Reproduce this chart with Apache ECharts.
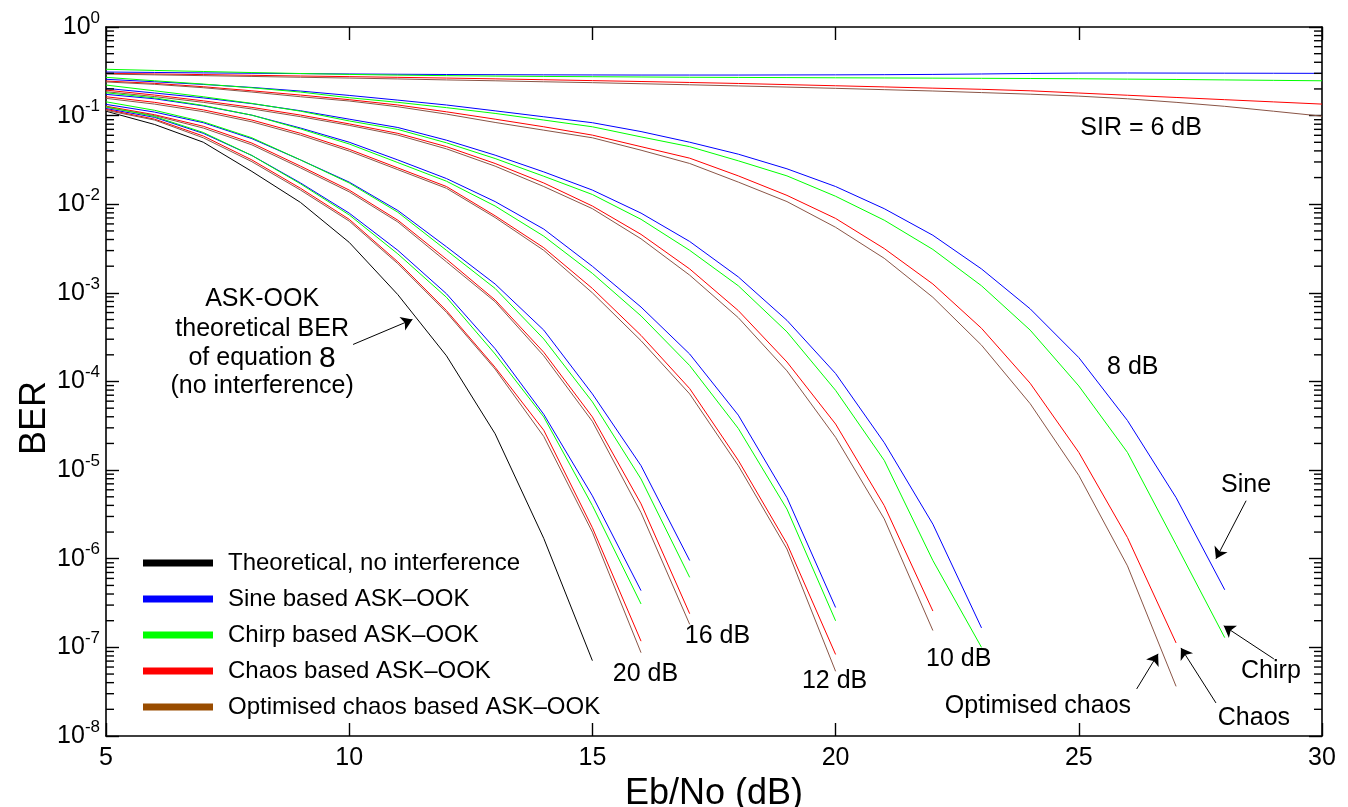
<!DOCTYPE html>
<html><head><meta charset="utf-8">
<script src="https://cdn.jsdelivr.net/npm/echarts@6.0.0/dist/echarts.min.js"></script>
<style>html,body{margin:0;padding:0;background:#fff}#c{width:1348px;height:807px}</style>
</head><body><div id="c"></div>
<script>
// ---- data (log10 of BER) ----
const EBNO = [5,6,7,8,9,10,11,12,13,14,15,16,17,18,19,20,21,22,23,24,25,26,27,28,29,30];
const X_TICKS = [5,10,15,20,25,30];
const Y_DECADES = [0,-1,-2,-3,-4,-5,-6,-7,-8];
const MINOR_MULTS = [2,3,4,5,6,7,8,9];

const THEORY = [-0.95,-1.10,-1.30,-1.63,-1.98,-2.43,-3.02,-3.71,-4.59,-5.77,-7.15];

const SINE_20  = [-0.92,-1.02,-1.20,-1.45,-1.76,-2.10,-2.52,-3.01,-3.63,-4.37,-5.29,-6.36];
const CHIRP_20 = [-0.90,-1.01,-1.19,-1.45,-1.77,-2.12,-2.56,-3.05,-3.69,-4.40,-5.40,-6.51];
const CHAOS_20 = [-0.93,-1.04,-1.23,-1.50,-1.82,-2.17,-2.65,-3.20,-3.84,-4.55,-5.65,-6.93];
const OPT_20   = [-0.94,-1.05,-1.25,-1.52,-1.84,-2.19,-2.67,-3.22,-3.86,-4.62,-5.70,-7.06];

const SINE_16  = [-0.873,-0.96,-1.08,-1.26,-1.50,-1.75,-2.07,-2.48,-2.90,-3.42,-4.14,-4.95,-6.02];
const CHIRP_16 = [-0.844,-0.94,-1.07,-1.25,-1.50,-1.76,-2.09,-2.52,-2.95,-3.52,-4.23,-5.10,-6.21];
const CHAOS_16 = [-0.893,-0.99,-1.12,-1.31,-1.57,-1.84,-2.18,-2.62,-3.08,-3.67,-4.40,-5.38,-6.62];
const OPT_16   = [-0.907,-1.00,-1.14,-1.33,-1.59,-1.86,-2.20,-2.65,-3.10,-3.71,-4.45,-5.48,-6.74];

const SINE_12  = [-0.76,-0.81,-0.89,-0.995,-1.14,-1.30,-1.50,-1.71,-1.97,-2.28,-2.70,-3.16,-3.69,-4.38,-5.31,-6.55];
const CHIRP_12 = [-0.742,-0.80,-0.885,-0.995,-1.15,-1.32,-1.53,-1.74,-2.02,-2.36,-2.78,-3.26,-3.82,-4.53,-5.44,-6.70];
const CHAOS_12 = [-0.787,-0.85,-0.935,-1.05,-1.20,-1.38,-1.59,-1.80,-2.13,-2.49,-2.95,-3.48,-4.08,-4.89,-5.83,-7.08];
const OPT_12   = [-0.805,-0.87,-0.955,-1.07,-1.22,-1.40,-1.61,-1.82,-2.15,-2.52,-3.00,-3.54,-4.14,-4.95,-5.89,-7.27];

const SINE_10  = [-0.692,-0.745,-0.80,-0.865,-0.945,-1.04,-1.134,-1.277,-1.446,-1.635,-1.84,-2.10,-2.42,-2.82,-3.31,-3.91,-4.69,-5.61,-6.78];
const CHIRP_10 = [-0.655,-0.72,-0.787,-0.862,-0.95,-1.06,-1.156,-1.307,-1.484,-1.684,-1.89,-2.17,-2.52,-2.92,-3.44,-4.10,-4.89,-6.02,-7.00];
const CHAOS_10 = [-0.712,-0.768,-0.833,-0.907,-0.994,-1.093,-1.20,-1.35,-1.54,-1.76,-2.02,-2.34,-2.73,-3.20,-3.78,-4.48,-5.40,-6.59];
const OPT_10   = [-0.73,-0.785,-0.85,-0.925,-1.012,-1.11,-1.22,-1.375,-1.57,-1.80,-2.05,-2.39,-2.80,-3.28,-3.88,-4.63,-5.55,-6.81];

const SINE_8  = [-0.59,-0.618,-0.648,-0.682,-0.723,-0.772,-0.825,-0.88,-0.946,-1.013,-1.08,-1.18,-1.30,-1.435,-1.60,-1.80,-2.05,-2.35,-2.73,-3.18,-3.73,-4.44,-5.31,-6.35];
const CHIRP_8 = [-0.568,-0.607,-0.644,-0.686,-0.734,-0.798,-0.85,-0.91,-0.975,-1.05,-1.126,-1.24,-1.35,-1.51,-1.68,-1.91,-2.18,-2.51,-2.92,-3.42,-4.05,-4.80,-5.84,-6.89];
const CHAOS_8 = [-0.61,-0.636,-0.674,-0.72,-0.768,-0.82,-0.88,-0.957,-1.04,-1.126,-1.22,-1.35,-1.48,-1.68,-1.90,-2.16,-2.50,-2.90,-3.40,-4.02,-4.80,-5.76,-6.95];
const OPT_8   = [-0.62,-0.647,-0.685,-0.734,-0.787,-0.835,-0.90,-0.983,-1.077,-1.164,-1.25,-1.39,-1.54,-1.75,-1.97,-2.26,-2.61,-3.05,-3.59,-4.25,-5.06,-6.08,-7.44];

const SINE_6  = [-0.508,-0.513,-0.518,-0.522,-0.526,-0.53,-0.533,-0.536,-0.538,-0.54,-0.541,-0.542,-0.542,-0.542,-0.541,-0.54,-0.538,-0.535,-0.53,-0.524,-0.52,-0.519,-0.52,-0.521,-0.522,-0.523];
const CHIRP_6 = [-0.477,-0.49,-0.502,-0.514,-0.525,-0.535,-0.543,-0.549,-0.554,-0.558,-0.561,-0.564,-0.567,-0.569,-0.571,-0.573,-0.575,-0.577,-0.579,-0.581,-0.584,-0.588,-0.592,-0.597,-0.602,-0.607];
const CHAOS_6 = [-0.523,-0.53,-0.537,-0.545,-0.553,-0.56,-0.568,-0.576,-0.585,-0.595,-0.605,-0.615,-0.626,-0.637,-0.65,-0.663,-0.676,-0.69,-0.703,-0.72,-0.745,-0.77,-0.795,-0.82,-0.845,-0.87];
const OPT_6   = [-0.531,-0.54,-0.549,-0.558,-0.567,-0.576,-0.586,-0.597,-0.607,-0.618,-0.628,-0.64,-0.652,-0.665,-0.678,-0.692,-0.707,-0.722,-0.74,-0.758,-0.78,-0.81,-0.85,-0.895,-0.95,-1.006];

const NAMES = ['Theoretical, no interference','Sine based ASK\u2013OOK','Chirp based ASK\u2013OOK','Chaos based ASK\u2013OOK','Optimised chaos based ASK\u2013OOK'];
const LEGEND_COLORS = ['#000000','#0000ff','#00ff00','#ff0000','#994c00'];
const LINE_COLORS = ['#000000','#0000ff','#00ff00','#ff0000','#8a5546'];

// annotations: [text, EbNo, log10 BER]
const NOTES = [
  ['SIR = 6 dB', 26.28, -1.141],
  ['8 dB', 26.11, -3.842],
  ['10 dB', 22.53, -7.13],
  ['12 dB', 19.98, -7.38],
  ['16 dB', 17.57, -6.87],
  ['20 dB', 16.09, -7.30],
  ['Sine', 28.44, -5.164],
  ['Chirp', 28.95, -7.266],
  ['Chaos', 28.60, -7.80],
  ['Optimised chaos', 24.16, -7.66],
  ['ASK-OOK', 8.21, -3.075],
  ['theoretical BER', 8.21, -3.412],
  ['of equation {n|8}', 8.21, -3.740],
  ['(no interference)', 8.21, -4.056]
];
// arrows: [fromX, fromLog, toX, toLog]
const ARROWS = [
  [10.08,-3.582, 11.30,-3.300],
  [28.44,-5.345, 27.82,-6.000],
  [29.01,-7.130, 27.98,-6.757],
  [27.82,-7.627, 27.10,-7.006],
  [26.19,-7.469, 26.63,-7.073]
];

// ---- chart ----
const FONT = '"Liberation Sans", Arial, Helvetica, sans-serif';
const P = e => Math.pow(10, e);

function mk(idx, arr) {
  return {
    name: NAMES[idx], type: 'line', symbol: 'none', showSymbol: false, silent: true,
    data: arr.map((e, i) => [EBNO[i], P(e)]),
    lineStyle: { width: 1, color: LINE_COLORS[idx] },
    itemStyle: { color: LINE_COLORS[idx] },
    emphasis: { disabled: true }, z: 3
  };
}
const groups = [
  [SINE_6, CHIRP_6, CHAOS_6, OPT_6],
  [SINE_8, CHIRP_8, CHAOS_8, OPT_8],
  [SINE_10, CHIRP_10, CHAOS_10, OPT_10],
  [SINE_12, CHIRP_12, CHAOS_12, OPT_12],
  [SINE_16, CHIRP_16, CHAOS_16, OPT_16],
  [SINE_20, CHIRP_20, CHAOS_20, OPT_20]
];
const series = [];
const theory = mk(0, THEORY);
theory.markLine = {
  silent: true, symbol: ['none', 'arrow'], symbolSize: 11, animation: false,
  label: { show: false },
  lineStyle: { color: '#000', width: 1, type: 'solid' },
  data: ARROWS.map(a => [{ coord: [a[0], P(a[1])] }, { coord: [a[2], P(a[3])] }])
};
series.push(theory);
groups.forEach(g => g.forEach((arr, j) => series.push(mk(j + 1, arr))));

// logarithmic minor ticks (2..9 x 10^n) drawn through the y scale on both frame edges
const minorData = [];
for (let i = 1; i < Y_DECADES.length; i++) MINOR_MULTS.forEach(k => minorData.push([X_TICKS[0], k * P(Y_DECADES[i])]));
series.push({
  type: 'custom', name: 'minorTicks', silent: true, clip: false, z: 6, legendHoverLink: false,
  data: minorData,
  renderItem: function (params, api) {
    const p = api.coord([api.value(0), api.value(1)]);
    const cs = params.coordSys;
    const xl = cs.x, xr = cs.x + cs.width;
    return {
      type: 'group',
      children: [
        { type: 'line', shape: { x1: xl, y1: p[1], x2: xl + 8, y2: p[1] }, style: { stroke: '#000', lineWidth: 1.4 } },
        { type: 'line', shape: { x1: xr - 8, y1: p[1], x2: xr, y2: p[1] }, style: { stroke: '#000', lineWidth: 1.4 } }
      ]
    };
  }
});

const axisLine = { show: true, onZero: false, lineStyle: { color: '#000', width: 1.6 } };
const tickStyle = { color: '#000', width: 1.4 };
const yLabel = {
  show: true, color: '#000', fontFamily: FONT, margin: 6,
  formatter: v => '{b|10}{s|' + Math.round(Math.log10(v)) + '}',
  rich: {
    b: { fontSize: 25, fontFamily: FONT, color: '#000', verticalAlign: 'bottom', lineHeight: 25 },
    s: { fontSize: 17, fontFamily: FONT, color: '#000', verticalAlign: 'bottom', lineHeight: 17, padding: [0, 0, 13, 0] }
  }
};
function yAx(pos) {
  return {
    type: 'log', logBase: 10, min: P(Y_DECADES[Y_DECADES.length - 1]), max: P(Y_DECADES[0]), position: pos, splitNumber: 8,
    axisLine: axisLine,
    axisTick: { show: true, inside: true, length: 13, lineStyle: tickStyle },
    axisLabel: pos === 'left' ? yLabel : { show: false },
    splitLine: { show: false }, minorTick: { show: false }
  };
}
function xAx(pos) {
  return {
    type: 'value', min: X_TICKS[0], max: X_TICKS[X_TICKS.length - 1], interval: 5, position: pos,
    axisLine: axisLine,
    axisTick: { show: true, inside: true, length: 13, lineStyle: tickStyle },
    axisLabel: pos === 'bottom'
      ? { show: true, fontSize: 25, fontFamily: FONT, color: '#000', margin: 10 }
      : { show: false },
    splitLine: { show: false },
    name: pos === 'bottom' ? 'Eb/No (dB)' : '',
    nameLocation: 'middle', nameGap: 31,
    nameTextStyle: { fontSize: 36, fontFamily: FONT, color: '#000' }
  };
}

const chart = echarts.init(document.getElementById('c'), null, { renderer: 'canvas' });
chart.setOption({
  animation: false,
  backgroundColor: '#fff',
  grid: { left: 106, right: 26, top: 27, bottom: 71, containLabel: false, outerBoundsMode: 'none' },
  xAxis: [xAx('bottom'), xAx('top')],
  yAxis: [yAx('left'), yAx('right')],
  legend: {
    show: true, orient: 'vertical', left: 143, top: 551, padding: 0, itemGap: 12,
    icon: 'rect', itemWidth: 70, itemHeight: 7, selectedMode: false,
    textStyle: { fontSize: 24, fontFamily: FONT, color: '#000', padding: [0, 0, 0, 10] },
    data: NAMES.map((n, i) => ({ name: n, icon: 'rect', itemStyle: { color: LEGEND_COLORS[i], borderWidth: 0 } }))
  },
  series: series
});

const toPx = (x, e) => chart.convertToPixel({ xAxisIndex: 0, yAxisIndex: 0 }, [x, P(e)]);
const gfx = NOTES.map(nt => {
  const p = toPx(nt[1], nt[2]);
  return {
    type: 'text', x: p[0], y: p[1], silent: true, z: 10,
    style: {
      text: nt[0], fill: '#000', fontSize: 25, fontFamily: FONT, align: 'center', verticalAlign: 'middle',
      rich: { n: { fontSize: 30, fontFamily: FONT, fill: '#000' } }
    }
  };
});
gfx.push({
  type: 'text', x: 35, y: 418, rotation: Math.PI / 2, silent: true,
  style: { text: 'BER', fill: '#000', fontSize: 36, fontFamily: FONT, align: 'center', verticalAlign: 'middle' }
});
chart.setOption({ graphic: gfx });
</script>
</body></html>
